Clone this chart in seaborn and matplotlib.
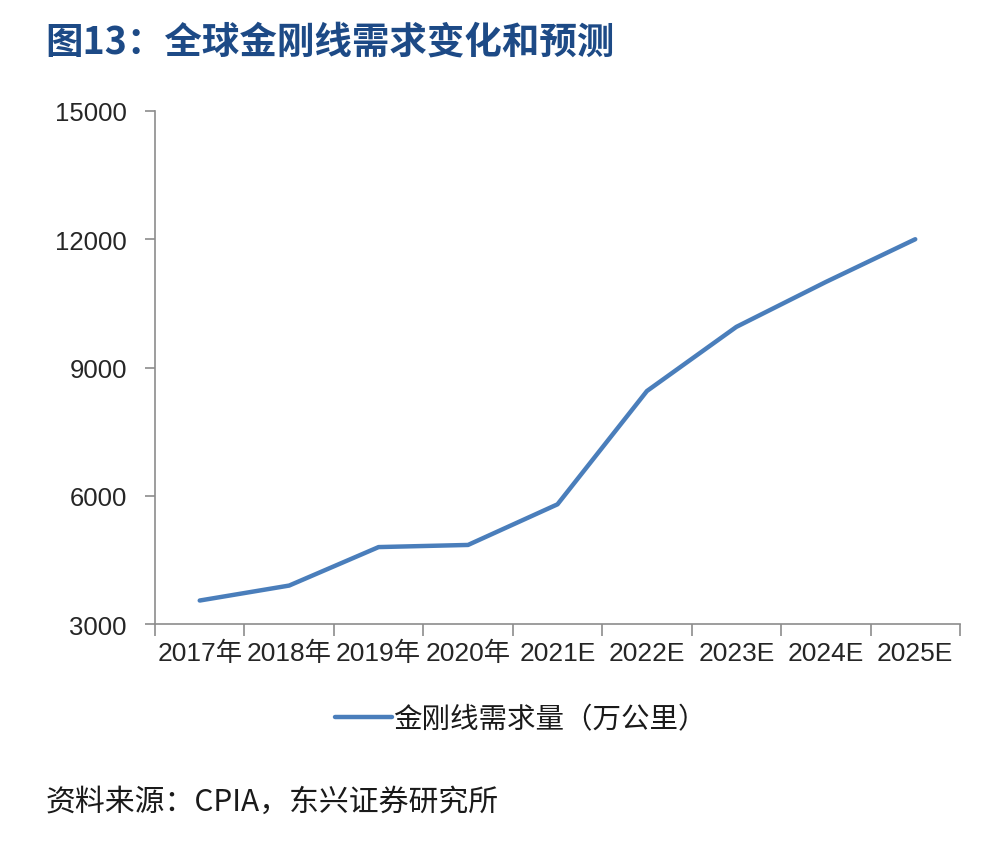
import matplotlib
matplotlib.use("Agg")
import matplotlib.pyplot as plt
import seaborn as sns
import pandas as pd
from matplotlib.ticker import FixedLocator

categories = ["2017年", "2018年", "2019年", "2020年", "2021E", "2022E", "2023E", "2024E", "2025E"]
demand = [3550, 3900, 4800, 4850, 5800, 8450, 9950, 11000, 12000]
y_ticks = [3000, 6000, 9000, 12000, 15000]
series_name = "金刚线需求量（万公里）"
title = "图13：全球金刚线需求变化和预测"
source = "资料来源：CPIA，东兴证券研究所"

sns.set_theme(style="white")
plt.rcParams['font.family'] = ['Liberation Sans', 'Noto Sans CJK SC', 'DejaVu Sans']

df = pd.DataFrame({"year": categories, "value": demand})

fig = plt.figure(figsize=(9.86, 8.54), dpi=100)
ax = fig.add_axes([0.1572, 0.2681, 0.8164, 0.6008])

sns.lineplot(data=df, x="year", y="value", ax=ax, color="#4A7EBB", linewidth=3.2,
             label=series_name, sort=False)

ax.set_xlim(-0.5, len(categories) - 0.5)
ax.set_ylim(3000, 15000)
ax.set_yticks(y_ticks)
ax.set_yticklabels([str(v) for v in y_ticks])
ax.set_xticks(range(len(categories)))
ax.set_xticklabels(categories)
ax.xaxis.set_minor_locator(FixedLocator([i - 0.5 for i in range(len(categories) + 1)]))
ax.set_xlabel("")
ax.set_ylabel("")

for s in ["top", "right"]:
    ax.spines[s].set_visible(False)
for s in ["left", "bottom"]:
    ax.spines[s].set_color("#8c8c8c")
    ax.spines[s].set_linewidth(1.2)

ax.tick_params(axis="x", which="major", length=0, pad=12, labelsize=19, labelcolor="#262626")
ax.tick_params(axis="x", which="minor", length=8.6, width=1.2, color="#8c8c8c", direction="out", bottom=True)
ax.tick_params(axis="y", which="major", length=7.2, width=1.2, color="#8c8c8c", direction="out",
               left=True, pad=13, labelsize=18.5, labelcolor="#262626")

leg = ax.legend(loc="center", bbox_to_anchor=(0.528, 0.157), bbox_transform=fig.transFigure,
                frameon=False, handlelength=2.0, handletextpad=0.05,
                prop={"family": ['Noto Sans CJK SC', 'DejaVu Sans'], "size": 20.5})
for t in leg.get_texts():
    t.set_color("#1a1a1a")

fig.text(0.046, 0.951, title, ha="left", va="center", fontsize=27, fontweight="bold",
         color="#1D4A86", family=['Noto Sans CJK SC', 'DejaVu Sans'])
fig.text(0.046, 0.060, source, ha="left", va="center", fontsize=21.5, style="italic",
         color="#1a1a1a", family=['Noto Sans CJK SC', 'DejaVu Sans'])

fig.savefig("out.png", dpi=100)
